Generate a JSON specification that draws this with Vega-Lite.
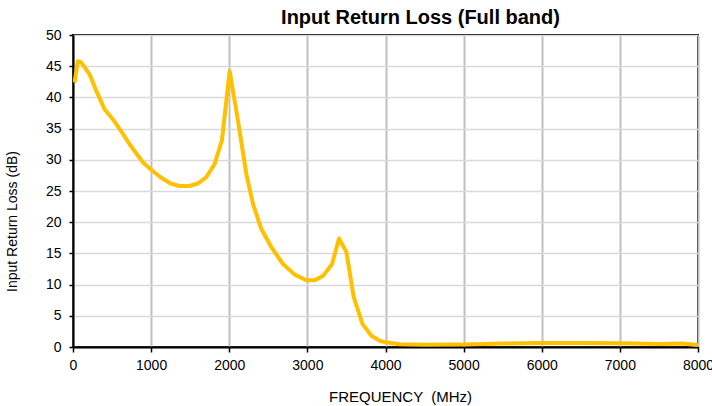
{
  "$schema": "https://vega.github.io/schema/vega-lite/v6.json",
  "autosize": "none",
  "width": 625,
  "height": 312,
  "padding": {"left": 73, "top": 35, "right": 14, "bottom": 59},
  "background": "white",
  "config": {
    "font": "Liberation Sans",
    "view": {"stroke": "black", "strokeWidth": 2},
    "axis": {"labelFont": "Liberation Sans", "titleFont": "Liberation Sans", "labelColor": "black", "titleColor": "black", "titleFontWeight": "normal", "domainColor": "black", "domainWidth": 2, "tickColor": "black", "tickSize": 5, "tickWidth": 1.5, "labelFontSize": 14}
  },
  "title": {"text": "Input Return Loss (Full band)", "font": "Liberation Sans", "fontSize": 20, "fontWeight": "bold", "color": "black", "offset": 0, "anchor": "middle", "dx": 35},
  "data": {"values": [
    {"f": 20, "rl": 42.4},
    {"f": 62, "rl": 45.8},
    {"f": 105, "rl": 45.6},
    {"f": 212, "rl": 43.7},
    {"f": 300, "rl": 41.0},
    {"f": 404, "rl": 38.1},
    {"f": 510, "rl": 36.5},
    {"f": 620, "rl": 34.5},
    {"f": 724, "rl": 32.5},
    {"f": 894, "rl": 29.6},
    {"f": 1000, "rl": 28.4},
    {"f": 1120, "rl": 27.2},
    {"f": 1250, "rl": 26.2},
    {"f": 1362, "rl": 25.8},
    {"f": 1490, "rl": 25.8},
    {"f": 1598, "rl": 26.2},
    {"f": 1705, "rl": 27.2},
    {"f": 1812, "rl": 29.3},
    {"f": 1906, "rl": 33.1},
    {"f": 2005, "rl": 44.2},
    {"f": 2111, "rl": 36.3},
    {"f": 2219, "rl": 27.7},
    {"f": 2304, "rl": 22.9},
    {"f": 2411, "rl": 18.9},
    {"f": 2539, "rl": 16.0},
    {"f": 2688, "rl": 13.3},
    {"f": 2838, "rl": 11.6},
    {"f": 2988, "rl": 10.7},
    {"f": 3094, "rl": 10.7},
    {"f": 3201, "rl": 11.4},
    {"f": 3316, "rl": 13.3},
    {"f": 3405, "rl": 17.4},
    {"f": 3500, "rl": 15.2},
    {"f": 3593, "rl": 8.0},
    {"f": 3705, "rl": 3.7},
    {"f": 3820, "rl": 1.8},
    {"f": 3926, "rl": 1.0},
    {"f": 4003, "rl": 0.75},
    {"f": 4182, "rl": 0.45},
    {"f": 4500, "rl": 0.35},
    {"f": 5000, "rl": 0.4},
    {"f": 5500, "rl": 0.55},
    {"f": 6000, "rl": 0.65},
    {"f": 6500, "rl": 0.65},
    {"f": 7000, "rl": 0.6},
    {"f": 7500, "rl": 0.5},
    {"f": 7800, "rl": 0.55},
    {"f": 8000, "rl": 0.3}
  ]},
  "layer": [
    {
      "mark": {"type": "line", "color": "#FFC000", "strokeWidth": 4, "strokeJoin": "round", "clip": true},
      "encoding": {
        "x": {"field": "f", "type": "quantitative", "scale": {"domain": [0, 8000], "nice": false},
          "axis": {"title": "FREQUENCY \u00a0(MHz)", "titleFontSize": 15, "titleX": 327, "format": "d", "values": [0,1000,2000,3000,4000,5000,6000,7000,8000], "labelFlush": false, "tickSize": 5, "labelPadding": 6, "titlePadding": 17, "grid": true, "gridColor": "#bfbfbf", "gridWidth": 2}},
        "y": {"field": "rl", "type": "quantitative", "scale": {"domain": [0, 50], "nice": false},
          "axis": {"title": "Input Return Loss (dB)", "titleFontSize": 14, "titleY": 186, "values": [0,5,10,15,20,25,30,35,40,45,50], "tickSize": 4, "labelPadding": 8, "titlePadding": 26, "grid": true, "gridColor": "#d9d9d9", "gridWidth": 1.5}}
      }
    }
  ]
}
